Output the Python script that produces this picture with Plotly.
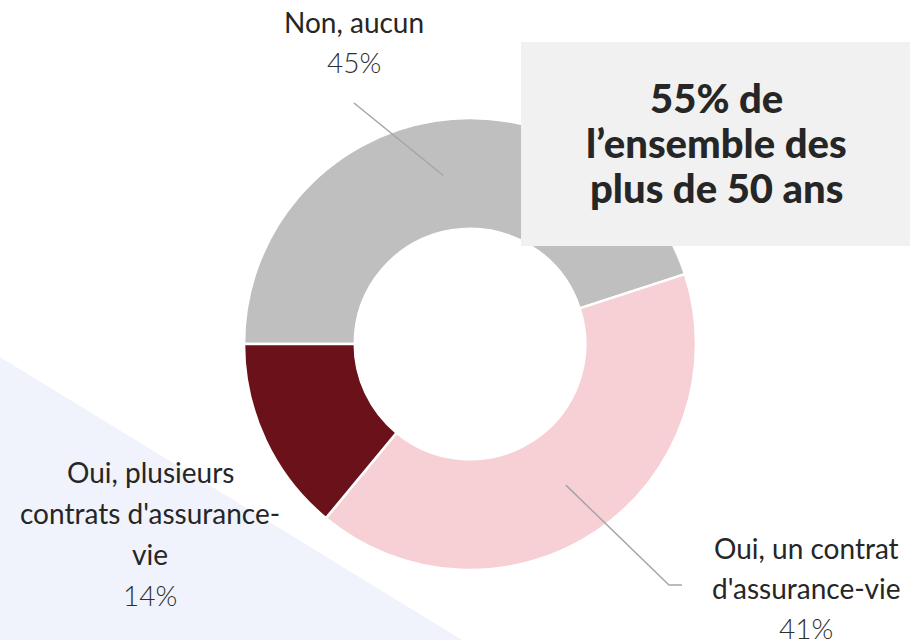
import math
import plotly.graph_objects as go

# ---- data ----
categories = ["Non, aucun", "Oui, un contrat d'assurance-vie", "Oui, plusieurs contrats d'assurance-vie"]
values = [45, 41, 14]
label_lines = [["Non, aucun"], ["Oui, un contrat", "d'assurance-vie"], ["Oui, plusieurs", "contrats d'assurance-", "vie"]]
colors = ["#bfbfbf", "#f7d0d5", "#6a111a"]
callout_lines = ["55% de", "l\u2019ensemble des", "plus de 50 ans"]

W, H = 910, 640
CX, CY, R = 470, 344, 226
HOLE = 0.51

def px(x):
    return x / W

def py(y):
    return 1 - y / H

fig = go.Figure()
fig.add_trace(go.Pie(
    labels=categories, values=values, sort=False, direction="clockwise",
    rotation=270, hole=HOLE, textinfo="none", hoverinfo="label+percent",
    marker=dict(colors=colors, line=dict(color="white", width=2.5)),
    domain=dict(x=[px(CX - R), px(CX + R)], y=[py(CY + R), py(CY - R)]),
    showlegend=False,
))

shapes = []
# background triangle
shapes.append(dict(type="path", xref="paper", yref="paper", layer="below",
                   path=f"M 0 {py(357)} L {px(462)} 0 L 0 0 Z",
                   fillcolor="#f0f3fb", line=dict(width=0)))
# callout box
shapes.append(dict(type="rect", xref="paper", yref="paper", layer="above",
                   x0=px(521), x1=1.0, y0=py(246), y1=py(42),
                   fillcolor="#f1f1f1", line=dict(width=0)))

# leader lines from slice midpoints
total = sum(values)
mids = []
start = 270.0
for v in values:
    span = 360.0 * v / total
    mids.append(start + span / 2)
    start += span
rm = R * (1 + HOLE) / 2

def ring_pt(angle):
    a = math.radians(angle)
    return CX + rm * math.sin(a), CY - rm * math.cos(a)

x0, y0 = ring_pt(mids[0])
shapes.append(dict(type="path", xref="paper", yref="paper", layer="above",
                   path=f"M {px(x0)} {py(y0)} L {px(354)} {py(103)}",
                   line=dict(color="#a6a6a6", width=1.5)))
x1, y1 = ring_pt(mids[1])
shapes.append(dict(type="path", xref="paper", yref="paper", layer="above",
                   path=f"M {px(x1)} {py(y1)} L {px(669)} {py(585)} L {px(682)} {py(585)}",
                   line=dict(color="#a6a6a6", width=1.5)))

FONT = "Lato"
annotations = []

def add_label(lines, pct, cx, ytop, step=40):
    y = ytop
    for ln in lines:
        annotations.append(dict(x=px(cx), y=py(y), xref="paper", yref="paper",
                                text=ln, showarrow=False, xanchor="center", yanchor="middle",
                                font=dict(family=FONT, size=28, color="#262626", weight=400)))
        y += step
    annotations.append(dict(x=px(cx), y=py(y), xref="paper", yref="paper",
                            text=f"{pct}%", showarrow=False, xanchor="center", yanchor="middle",
                            font=dict(family=FONT, size=28, color="#2e2e2e", weight=300)))

add_label(label_lines[0], values[0], 354, 22)
add_label(label_lines[1], values[1], 806, 548)
add_label(label_lines[2], values[2], 150, 472, step=41)

for ln, yy in zip(callout_lines, [98, 143, 188]):
    annotations.append(dict(x=px(716), y=py(yy), xref="paper", yref="paper",
                            text=ln, showarrow=False, xanchor="center", yanchor="middle",
                            font=dict(family=FONT, size=40, color="#262626", weight=900)))

fig.update_layout(
    width=W, height=H, margin=dict(l=0, r=0, t=0, b=0),
    paper_bgcolor="white", plot_bgcolor="white",
    shapes=shapes, annotations=annotations,
)
fig.write_html("out.html", config={"displayModeBar": False},
               post_script="document.body.style.margin='0px';")
